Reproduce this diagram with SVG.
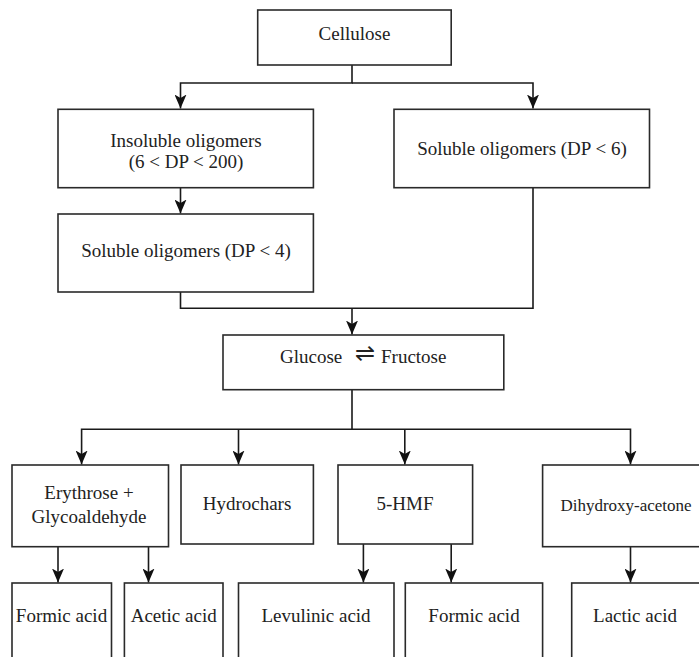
<svg xmlns="http://www.w3.org/2000/svg" width="699" height="657" viewBox="0 0 699 657">
<defs>
<style>
.box{fill:#fff;stroke:#2a2a2a;stroke-width:1.6}
.ln{fill:none;stroke:#1a1a1a;stroke-width:1.6}
.t{font-family:"Liberation Serif","Times New Roman",serif;font-size:19px;fill:#222;text-anchor:middle}
.s{font-size:17px}
.sym{font-family:"DejaVu Sans",sans-serif;font-size:24px}
</style>
<marker id="ah" markerUnits="userSpaceOnUse" markerWidth="14" markerHeight="12" viewBox="0 0 14 12" refX="14" refY="6" orient="auto">
<path d="M0,0 L14,6 L0,12 L3.5,6 Z" fill="#111"/>
</marker>
</defs>
<rect width="699" height="657" fill="#fff"/>
<g id="connectors">
<path class="ln" d="M352,65 V83 H180.5 V108.5" marker-end="url(#ah)"/>
<path class="ln" d="M352,83 H533 V108.5" marker-end="url(#ah)"/>
<path class="ln" d="M180.5,188 V213.5" marker-end="url(#ah)"/>
<path class="ln" d="M180.5,292 V308.3 H533 V188"/>
<path class="ln" d="M352,308.3 V334.5" marker-end="url(#ah)"/>
<path class="ln" d="M352,390 V429.3 H81.6 V464.5" marker-end="url(#ah)"/>
<path class="ln" d="M238.5,429.3 V464.5" marker-end="url(#ah)"/>
<path class="ln" d="M404.8,429.3 V464.5" marker-end="url(#ah)"/>
<path class="ln" d="M352,429.3 H630.5 V464.5" marker-end="url(#ah)"/>
<path class="ln" d="M58,546.7 V582.5" marker-end="url(#ah)"/>
<path class="ln" d="M148.5,546.7 V582.5" marker-end="url(#ah)"/>
<path class="ln" d="M363.4,544 V582.5" marker-end="url(#ah)"/>
<path class="ln" d="M451.2,544 V582.5" marker-end="url(#ah)"/>
<path class="ln" d="M630.5,546.7 V582.5" marker-end="url(#ah)"/>
</g>
<g id="cellulose"><rect class="box" x="257.7" y="10" width="193.5" height="55"/><text class="t" x="354.5" y="40">Cellulose</text></g>
<g id="insoluble"><rect class="box" x="58" y="109.3" width="255.4" height="78.4"/><text class="t" x="186" y="147">Insoluble oligomers</text><text class="t" x="186" y="168">(6 &lt; DP &lt; 200)</text></g>
<g id="soluble6"><rect class="box" x="394" y="109.3" width="255.5" height="78.4"/><text class="t" x="522" y="155">Soluble oligomers (DP &lt; 6)</text></g>
<g id="soluble4"><rect class="box" x="58" y="214" width="255.4" height="78"/><text class="t" x="186" y="257">Soluble oligomers (DP &lt; 4)</text></g>
<g id="glucose"><rect class="box" x="223" y="335" width="280.8" height="54.7"/><text class="t" style="text-anchor:start" y="363"><tspan x="280">Glucose</tspan><tspan class="sym" x="355" y="361">⇌</tspan><tspan x="381" y="363">Fructose</tspan></text></g>
<g id="erythrose"><rect class="box" x="12" y="465" width="156.5" height="81.7"/><text class="t" x="89" y="499">Erythrose +</text><text class="t" x="89" y="523">Glycoaldehyde</text></g>
<g id="hydrochars"><rect class="box" x="181" y="465" width="132.4" height="79"/><text class="t" x="247" y="510">Hydrochars</text></g>
<g id="hmf"><rect class="box" x="338" y="465" width="134.6" height="79"/><text class="t" x="405" y="510">5-HMF</text></g>
<g id="dha"><rect class="box" x="542.6" y="465" width="168" height="81.7"/><text class="t s" x="626" y="511">Dihydroxy-acetone</text></g>
<g id="formic1"><rect class="box" x="12" y="583" width="99.5" height="90"/><text class="t" x="61.5" y="622">Formic acid</text></g>
<g id="acetic"><rect class="box" x="124.4" y="583" width="98.6" height="90"/><text class="t" x="173.7" y="622">Acetic acid</text></g>
<g id="levulinic"><rect class="box" x="238.5" y="583" width="155.5" height="90"/><text class="t" x="316" y="622">Levulinic acid</text></g>
<g id="formic2"><rect class="box" x="405.3" y="583" width="137.3" height="90"/><text class="t" x="474" y="622">Formic acid</text></g>
<g id="lactic"><rect class="box" x="571.7" y="583" width="130" height="90"/><text class="t" x="635" y="622">Lactic acid</text></g>
</svg>
